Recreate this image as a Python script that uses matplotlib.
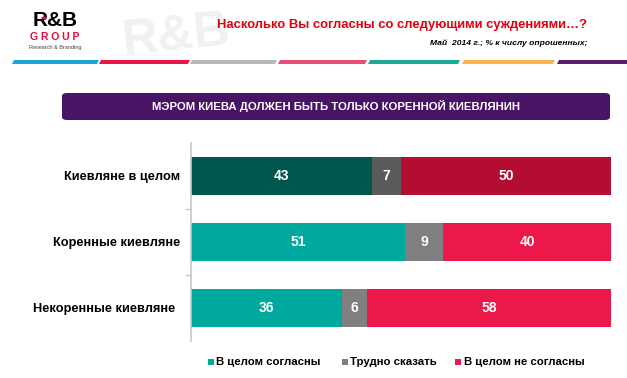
import matplotlib
matplotlib.use("Agg")
import matplotlib.pyplot as plt
from matplotlib.patches import FancyBboxPatch, Rectangle, Polygon, Circle
import numpy as np

plt.rcParams["font.family"] = ["Liberation Sans", "DejaVu Sans"]

categories = ["Киевляне в целом", "Коренные киевляне", "Некоренные киевляне"]
agree = [43, 51, 36]
hard = [7, 9, 6]
disagree = [50, 40, 58]
series_names = ["В целом согласны", "Трудно сказать", "В целом не согласны"]

# first row uses darker shades
colors_first = ["#00554F", "#5A5A5A", "#B30E32"]
colors_rest = ["#00A99D", "#808080", "#EC1849"]

W, H = 627, 378
fig = plt.figure(figsize=(W / 100, H / 100), dpi=100)
fig.patch.set_facecolor("white")

def px(x, y):
    return x / W, 1 - y / H

# watermark
fig.text(*px(176, 36), "R&B", fontsize=36, fontweight="bold", color="#F1F1F1",
         ha="center", va="center", rotation=6, zorder=0)

# logo
fig.text(*px(55, 20), "R&B", fontsize=15, fontweight="bold", color="black",
         ha="center", va="center")
fig.patches.append(Circle(px(44, 18), 2.6 / W, transform=fig.transFigure,
                          facecolor="#E30B3B", edgecolor="none", zorder=5))
fig.text(*px(55, 37), "G R O U P", fontsize=7.5, fontweight="bold", color="#E30B3B",
         ha="center", va="center")
fig.text(*px(55, 48), "Research & Branding", fontsize=4, color="#444444",
         ha="center", va="center")

# colored stripe under header
stripe = [(12, 97, "#1BA6D9"), (99, 188, "#E8174A"), (190, 275, "#B8B8B8"),
          (278, 365, "#E94C77"), (368, 458, "#1AAA96"), (462, 553, "#F9B54E"),
          (557, 640, "#5A1F70")]
for x0, x1, c in stripe:
    pts = [px(x0, 64), px(x1, 64), px(x1 + 2, 60), px(x0 + 2, 60)]
    fig.patches.append(Polygon(pts, closed=True, transform=fig.transFigure,
                               facecolor=c, edgecolor="none"))

fig.text(*px(217, 25), "Насколько Вы согласны со следующими суждениями…?",
         fontsize=9.4, fontweight="bold", color="#E3000F", ha="left", va="center")
fig.text(*px(587, 43), "Май  2014 г.; % к числу опрошенных;",
         fontsize=6.1, fontstyle="italic", fontweight="bold", color="black",
         ha="right", va="center")

# purple banner
bx0, by0 = px(62, 120)
bx1, by1 = px(610, 93)
banner = FancyBboxPatch((bx0, by0), bx1 - bx0, by1 - by0,
                        boxstyle="round,pad=0,rounding_size=0.008",
                        transform=fig.transFigure, facecolor="#4A1466",
                        edgecolor="none")
fig.patches.append(banner)
fig.text((bx0 + bx1) / 2, (by0 + by1) / 2 + 0.002,
         "МЭРОМ КИЕВА ДОЛЖЕН БЫТЬ ТОЛЬКО КОРЕННОЙ КИЕВЛЯНИН",
         fontsize=8.2, fontweight="bold", color="white", ha="center", va="center")

# bar chart
ax = fig.add_axes([191 / W, (H - 341) / H, 420 / W, 198 / H])
y = np.arange(len(categories))
data = [agree, hard, disagree]
left = np.zeros(len(categories))
for j, vals in enumerate(data):
    for i, v in enumerate(vals):
        c = colors_first[j] if i == 0 else colors_rest[j]
        ax.barh(y[i], v, left=left[i], height=0.59, color=c, edgecolor="none")
        ax.text(left[i] + v / 2, y[i], str(v), ha="center", va="center",
                color="white", fontsize=10, fontweight="bold")
    left += np.array(vals)

ax.set_xlim(0, 100)
ax.set_ylim(len(categories) - 0.5, -0.5)
ax.set_yticks([0.5, 1.5])
ax.set_yticklabels([])
ax.tick_params(axis="y", length=4, color="#C8C8C8", width=1)
ax.set_xticks([])
for s in ["top", "right", "bottom"]:
    ax.spines[s].set_visible(False)
ax.spines["left"].set_color("#C8C8C8")
ax.spines["left"].set_linewidth(1.2)
ax.set_facecolor("none")

label_right = [-2.6, -2.6, -3.8]
for i, name in enumerate(categories):
    ax.text(label_right[i], y[i] + 0.02, name, ha="right", va="center",
            fontsize=9.2, fontweight="bold", color="black",
            transform=ax.transData, clip_on=False)

# legend
leg_x = [208, 342, 455]
for k, name in enumerate(series_names):
    lx, ly = px(leg_x[k], 362)
    fig.patches.append(Rectangle((lx, ly - 3 / H), 6 / W, 6 / H,
                                 transform=fig.transFigure,
                                 facecolor=colors_rest[k], edgecolor="none"))
    fig.text(lx + 8.5 / W, ly, name, fontsize=8.2, fontweight="bold",
             color="black", ha="left", va="center")

fig.savefig("out.png", dpi=100)
